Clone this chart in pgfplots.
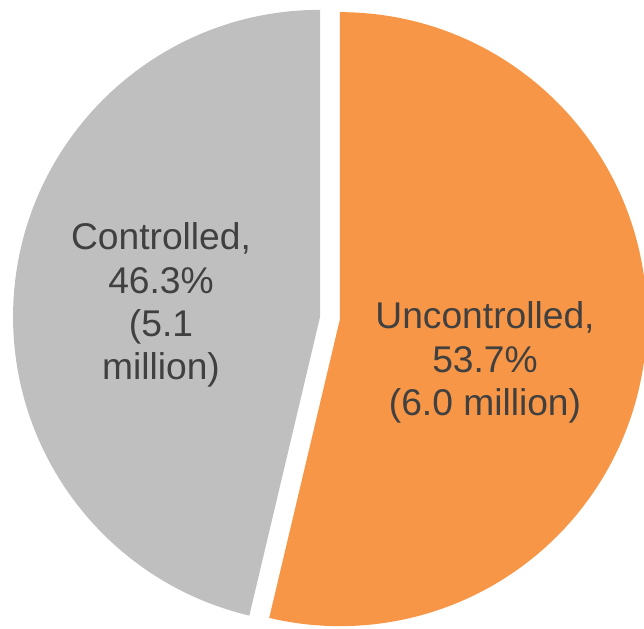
\documentclass[border=0pt]{standalone}
\usepackage{pgfplots}
\usepackage{pgfplotstable}
\pgfplotsset{compat=1.18}
\usepackage{fontspec}
\setmainfont{Liberation Sans}
\definecolor{pieorange}{HTML}{F79646}
\definecolor{piegray}{HTML}{BFBFBF}
\definecolor{txt}{HTML}{404040}
\pgfplotstableread{
label value
Uncontrolled 53.7
Controlled 46.3
}\piedata
\begin{document}
\begin{tikzpicture}
\useasboundingbox (0,0) rectangle (322pt,314pt);
\pgfplotstablegetelem{0}{value}\of\piedata \pgfmathsetmacro{\vU}{\pgfplotsretval}
\pgfplotstablegetelem{1}{value}\of\piedata \pgfmathsetmacro{\vC}{\pgfplotsretval}
\pgfmathsetmacro{\aU}{90-3.6*\vU}
\pgfmathsetmacro{\aC}{90+3.6*\vC}
\pgfmathsetmacro{\bU}{90-1.8*\vU}
\pgfmathsetmacro{\bC}{90+1.8*\vC}
\begin{axis}[at={(0,0)},anchor=south west, scale only axis,
  width=322pt, height=314pt, xmin=0, xmax=644, ymin=0, ymax=628,
  hide axis, clip=false]
\fill[pieorange] ({330+10*cos(\bU)},{310+10*sin(\bU)}) -- +(90:153.5pt)
  arc[start angle=90, end angle=\aU, radius=153.5pt] -- cycle;
\fill[piegray] ({330+10*cos(\bC)},{310+10*sin(\bC)}) -- +(90:153.5pt)
  arc[start angle=90, end angle=\aC, radius=153.5pt] -- cycle;
\node[align=center, text=txt, font=\fontsize{18.6}{21.6}\selectfont]
  at (axis cs:161,323) {Controlled,\\46.3\%\\(5.1\\million)};
\node[align=center, text=txt, font=\fontsize{18.6}{21.6}\selectfont]
  at (axis cs:485,265.5) {Uncontrolled,\\53.7\%\\(6.0 million)};
\end{axis}
\end{tikzpicture}
\end{document}
